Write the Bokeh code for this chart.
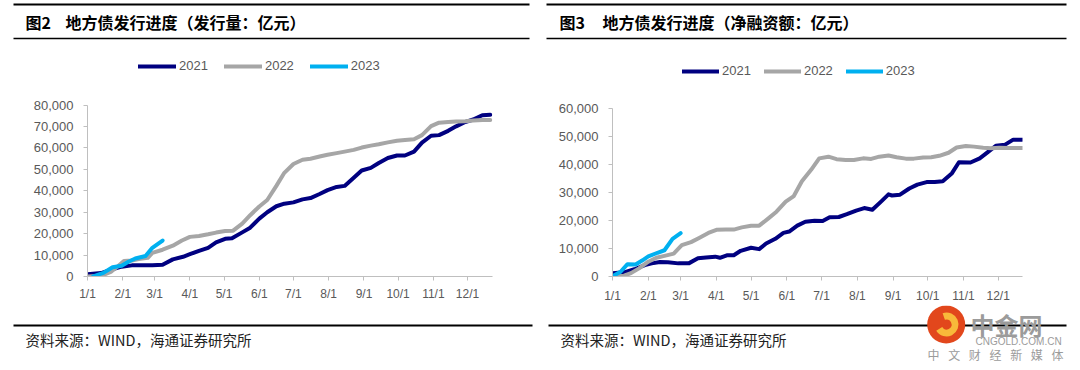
from bokeh.plotting import figure
from bokeh.models import Range1d, FixedTicker, NumeralTickFormatter, Legend, LegendItem
from bokeh.layouts import column, row
from bokeh.embed import file_html
from bokeh.resources import INLINE
from bokeh.core.properties import value
import numpy as np

# ---------------- data ----------------
month_days = [0, 31, 59, 90, 120, 151, 181, 212, 243, 273, 304, 334]
month_labels = ["1/1", "2/1", "3/1", "4/1", "5/1", "6/1", "7/1", "8/1", "9/1", "10/1", "11/1", "12/1"]
series_names = ["2021", "2022", "2023"]

# Fig 2: issuance volume (亿元), x = day of year
iss_2021_days = [0, 12, 21, 30, 39, 48, 57, 66, 75, 84, 90, 98, 106, 113, 121, 127, 136, 143, 151, 158,
                 166, 173, 181, 189, 196, 204, 211, 219, 226, 234, 241, 249, 256, 264, 272, 279, 287,
                 294, 302, 309, 317, 324, 332, 339, 347, 354]
iss_2021_vals = [1100, 1600, 3200, 4600, 5200, 5300, 5300, 5500, 8000, 9200, 10400, 12000, 13400, 15900,
                 17600, 17900, 20600, 22800, 27000, 30000, 32800, 34000, 34600, 36000, 36600, 38500,
                 40300, 41800, 42300, 46100, 49500, 50700, 53000, 55300, 56500, 56500, 58300, 62500,
                 65700, 66000, 68000, 70100, 72100, 73300, 75300, 75500]
iss_2022_days = [0, 12, 21, 27, 32, 39, 45, 53, 57, 66, 75, 83, 90, 98, 106, 113, 121, 128, 136, 143,
                 151, 158, 166, 173, 181, 189, 196, 204, 211, 219, 226, 234, 241, 249, 256, 264, 272,
                 279, 287, 294, 302, 309, 317, 324, 332, 339, 347, 354]
iss_2022_vals = [0, 300, 2300, 4900, 7200, 7500, 8200, 8700, 11000, 12500, 14400, 16800, 18500, 18900,
                 19700, 20500, 21200, 21400, 24700, 28600, 32700, 35700, 42300, 48400, 52500, 54500,
                 55000, 56000, 56800, 57600, 58300, 59100, 60200, 61100, 61700, 62600, 63400, 63700,
                 64100, 66000, 70200, 71800, 72100, 72400, 72500, 72800, 73100, 73100]
iss_2023_days = [5, 14, 22, 30, 36, 42, 51, 57, 61, 66]
iss_2023_vals = [100, 1700, 4300, 5000, 6900, 8400, 9600, 13400, 14900, 16800]

# Fig 3: net financing (亿元)
net_2021_days = [0, 10, 19, 28, 34, 41, 48, 57, 66, 74, 81, 89, 93, 99, 105, 111, 120, 127, 133, 141,
                 148, 153, 160, 167, 175, 182, 188, 196, 203, 211, 218, 225, 233, 239, 242, 249, 257,
                 264, 272, 279, 286, 294, 300, 310, 318, 325, 332, 340, 347, 355]
net_2021_vals = [1200, 1500, 2600, 4100, 4700, 5200, 5100, 4700, 4700, 6500, 6800, 7100, 6700, 7600,
                 7600, 9200, 10300, 9800, 11800, 13500, 15600, 16100, 18200, 19600, 20000, 19900,
                 21200, 21300, 22300, 23600, 24500, 23900, 27000, 29400, 29000, 29300, 31500, 32900,
                 33800, 33800, 34100, 37000, 40900, 40800, 42300, 44500, 46800, 47200, 49000, 49000]
net_2022_days = [0, 10, 16, 23, 31, 38, 45, 53, 60, 68, 75, 83, 90, 98, 105, 112, 120, 127, 135, 142,
                 150, 157, 164, 172, 179, 187, 194, 202, 209, 217, 224, 231, 239, 246, 254, 261, 269,
                 276, 283, 291, 298, 306, 313, 321, 328, 335, 343, 355]
net_2022_vals = [0, 300, 1200, 2900, 5300, 6700, 7400, 8200, 11200, 12300, 13800, 15600, 16700, 16800,
                 16800, 17600, 18200, 18200, 20800, 23200, 26800, 28800, 34100, 38200, 42300, 42900,
                 42000, 41700, 41700, 42300, 42100, 42900, 43300, 42700, 42200, 42200, 42600, 42700,
                 43200, 44300, 46200, 46700, 46500, 46100, 45900, 46100, 46000, 46000]
net_2023_days = [0, 7, 13, 20, 26, 31, 39, 45, 52, 59]
net_2023_vals = [100, 1700, 4400, 4300, 5800, 7200, 8500, 9400, 13500, 15500]

# ---------------- style ----------------
NAVY = "#000080"
GRAY = "#a6a6a6"
BLUE = "#00b0f0"
TICK_GRAY = "#595959"
AXIS_GRAY = "#bfbfbf"
LATIN = "Liberation Sans"
CJK = "Noto Sans CJK SC"
colors = [NAVY, GRAY, BLUE]


def make_chart(width, height, bl, br, bb, xr, yr, ymax, ystep, series, legend_loc,
               spacing, glyph_w, x_standoff):
    p = figure(width=width, height=height, x_range=Range1d(*xr), y_range=Range1d(*yr),
               output_backend="svg", toolbar_location=None,
               min_border_left=bl, min_border_right=br, min_border_top=0, min_border_bottom=bb)
    p.outline_line_color = None
    p.grid.visible = False
    p.background_fill_color = "white"
    items = []
    for name, (d, v), c in zip(series_names, series, colors):
        r = p.line(d, v, line_color=c, line_width=4, line_join="round", line_cap="round")
        items.append(LegendItem(label=name, renderers=[r]))

    xa = p.xaxis[0]
    xa.ticker = FixedTicker(ticks=month_days)
    xa.major_label_overrides = {d: l for d, l in zip(month_days, month_labels)}
    xa.axis_line_color = AXIS_GRAY
    xa.major_tick_line_color = AXIS_GRAY
    xa.minor_tick_line_color = None
    xa.major_tick_in = 0
    xa.major_tick_out = 4
    xa.major_label_standoff = x_standoff
    xa.major_label_text_color = TICK_GRAY
    xa.major_label_text_font = LATIN
    xa.major_label_text_font_size = "12px"

    ya = p.yaxis[0]
    ya.ticker = FixedTicker(ticks=list(range(0, ymax + 1, ystep)))
    ya.formatter = NumeralTickFormatter(format="0,0")
    ya.bounds = (0, ymax)
    ya.axis_line_color = AXIS_GRAY
    ya.major_tick_line_color = AXIS_GRAY
    ya.minor_tick_line_color = None
    ya.major_tick_in = 0
    ya.major_tick_out = 4
    ya.major_label_standoff = 10
    ya.major_label_text_color = TICK_GRAY
    ya.major_label_text_font = LATIN
    ya.major_label_text_font_size = "13px"

    leg = Legend(items=items, orientation="horizontal", location=legend_loc,
                 padding=0, margin=0, spacing=spacing, glyph_width=glyph_w, glyph_height=14,
                 label_height=14, label_standoff=3, label_text_font_size="13px",
                 label_text_color=TICK_GRAY, label_text_font=LATIN,
                 border_line_color=None, background_fill_alpha=0)
    p.add_layout(leg)
    return p


# chart 1: frame x 87..492, y 40..281 ; figure x 0..540, y 40..305
pxd1 = 380 / 334.0
ppu1 = 80000 / 175.0
c1 = make_chart(540, 265, 87, 48, 24,
                (0, 405 / pxd1), (0, 241 * ppu1), 80000, 10000,
                [(iss_2021_days, iss_2021_vals), (iss_2022_days, iss_2022_vals),
                 (iss_2023_days, iss_2023_vals)],
                (51, 203), 16, 38, 6)

# chart 2: frame x 612..1022, y 40..278 ; figure x 540..1080
pxd2 = 385.7 / 334.0
ppu2 = 60000 / 169.0
c2 = make_chart(540, 265, 72, 58, 27,
                (0, 410 / pxd2), (0, 238 * ppu2), 60000, 10000,
                [(net_2021_days, net_2021_vals), (net_2022_days, net_2022_vals),
                 (net_2023_days, net_2023_vals)],
                (70, 198), 13, 37, 8)


def canvas(height, y0, y1):
    f = figure(width=1080, height=height, x_range=Range1d(0, 1080), y_range=Range1d(y1, y0),
               output_backend="svg", toolbar_location=None,
               x_axis_location=None, y_axis_location=None, min_border=0)
    f.outline_line_color = None
    f.grid.visible = False
    return f


# header (y 0..40)
hdr = canvas(40, 0, 40)
hdr.segment(x0=[13, 546], y0=[4, 4], x1=[529, 1066], y1=[4, 4], line_color="black", line_width=2)
hdr.segment(x0=[13, 546], y0=[38, 38], x1=[529, 1066], y1=[38, 38], line_color="black", line_width=1.5)
hdr.text(x=[25, 65, 559, 602], y=[21, 21, 21, 21],
         text=["图2", "地方债发行进度（发行量：亿元）", "图3", "地方债发行进度（净融资额：亿元）"],
         text_font=value(CJK), text_font_style="bold", text_font_size="16px",
         text_baseline="middle", text_align="left", text_color="black")

# footer (y 305..370)
ftr = canvas(65, 305, 370)
ftr.segment(x0=[13, 548], y0=[325, 325], x1=[532, 1066], y1=[325, 325], line_color="black", line_width=2)
ftr.text(x=[25, 560], y=[339, 339], text=["资料来源：WIND，海通证券研究所", "资料来源：WIND，海通证券研究所"],
         text_font=value(CJK), text_font_size="14.5px", text_baseline="middle", text_color="#222222")
# watermark
ftr.circle(x=[945.7], y=[324], radius=19, fill_color="#e2471c", line_color=None)
ftr.annular_wedge(x=[946], y=[324], inner_radius=5, outer_radius=12, start_angle=-2.6, end_angle=1.9,
                  fill_color="#f8b93a", line_color=None)
ftr.text(x=[970], y=[324], text=["中金网"], text_font=value(CJK), text_font_style="bold",
         text_font_size="24px", text_baseline="middle", text_color="#9b9b9b")
ftr.text(x=[975], y=[341], text=["CNGOLD.COM.CN"], text_font=value(LATIN), text_font_size="10px",
         text_baseline="middle", text_color="#9b9b9b")
wm_chars = list("中文财经新媒体")
ftr.text(x=list(np.linspace(933, 1057, len(wm_chars))), y=[354] * len(wm_chars), text=wm_chars,
         text_font=value(CJK), text_font_size="12px", text_baseline="middle", text_align="center",
         text_color="#9b9b9b")

layout = column(hdr, row(c1, c2), ftr)
open("out.html", "w").write(file_html(layout, INLINE))
